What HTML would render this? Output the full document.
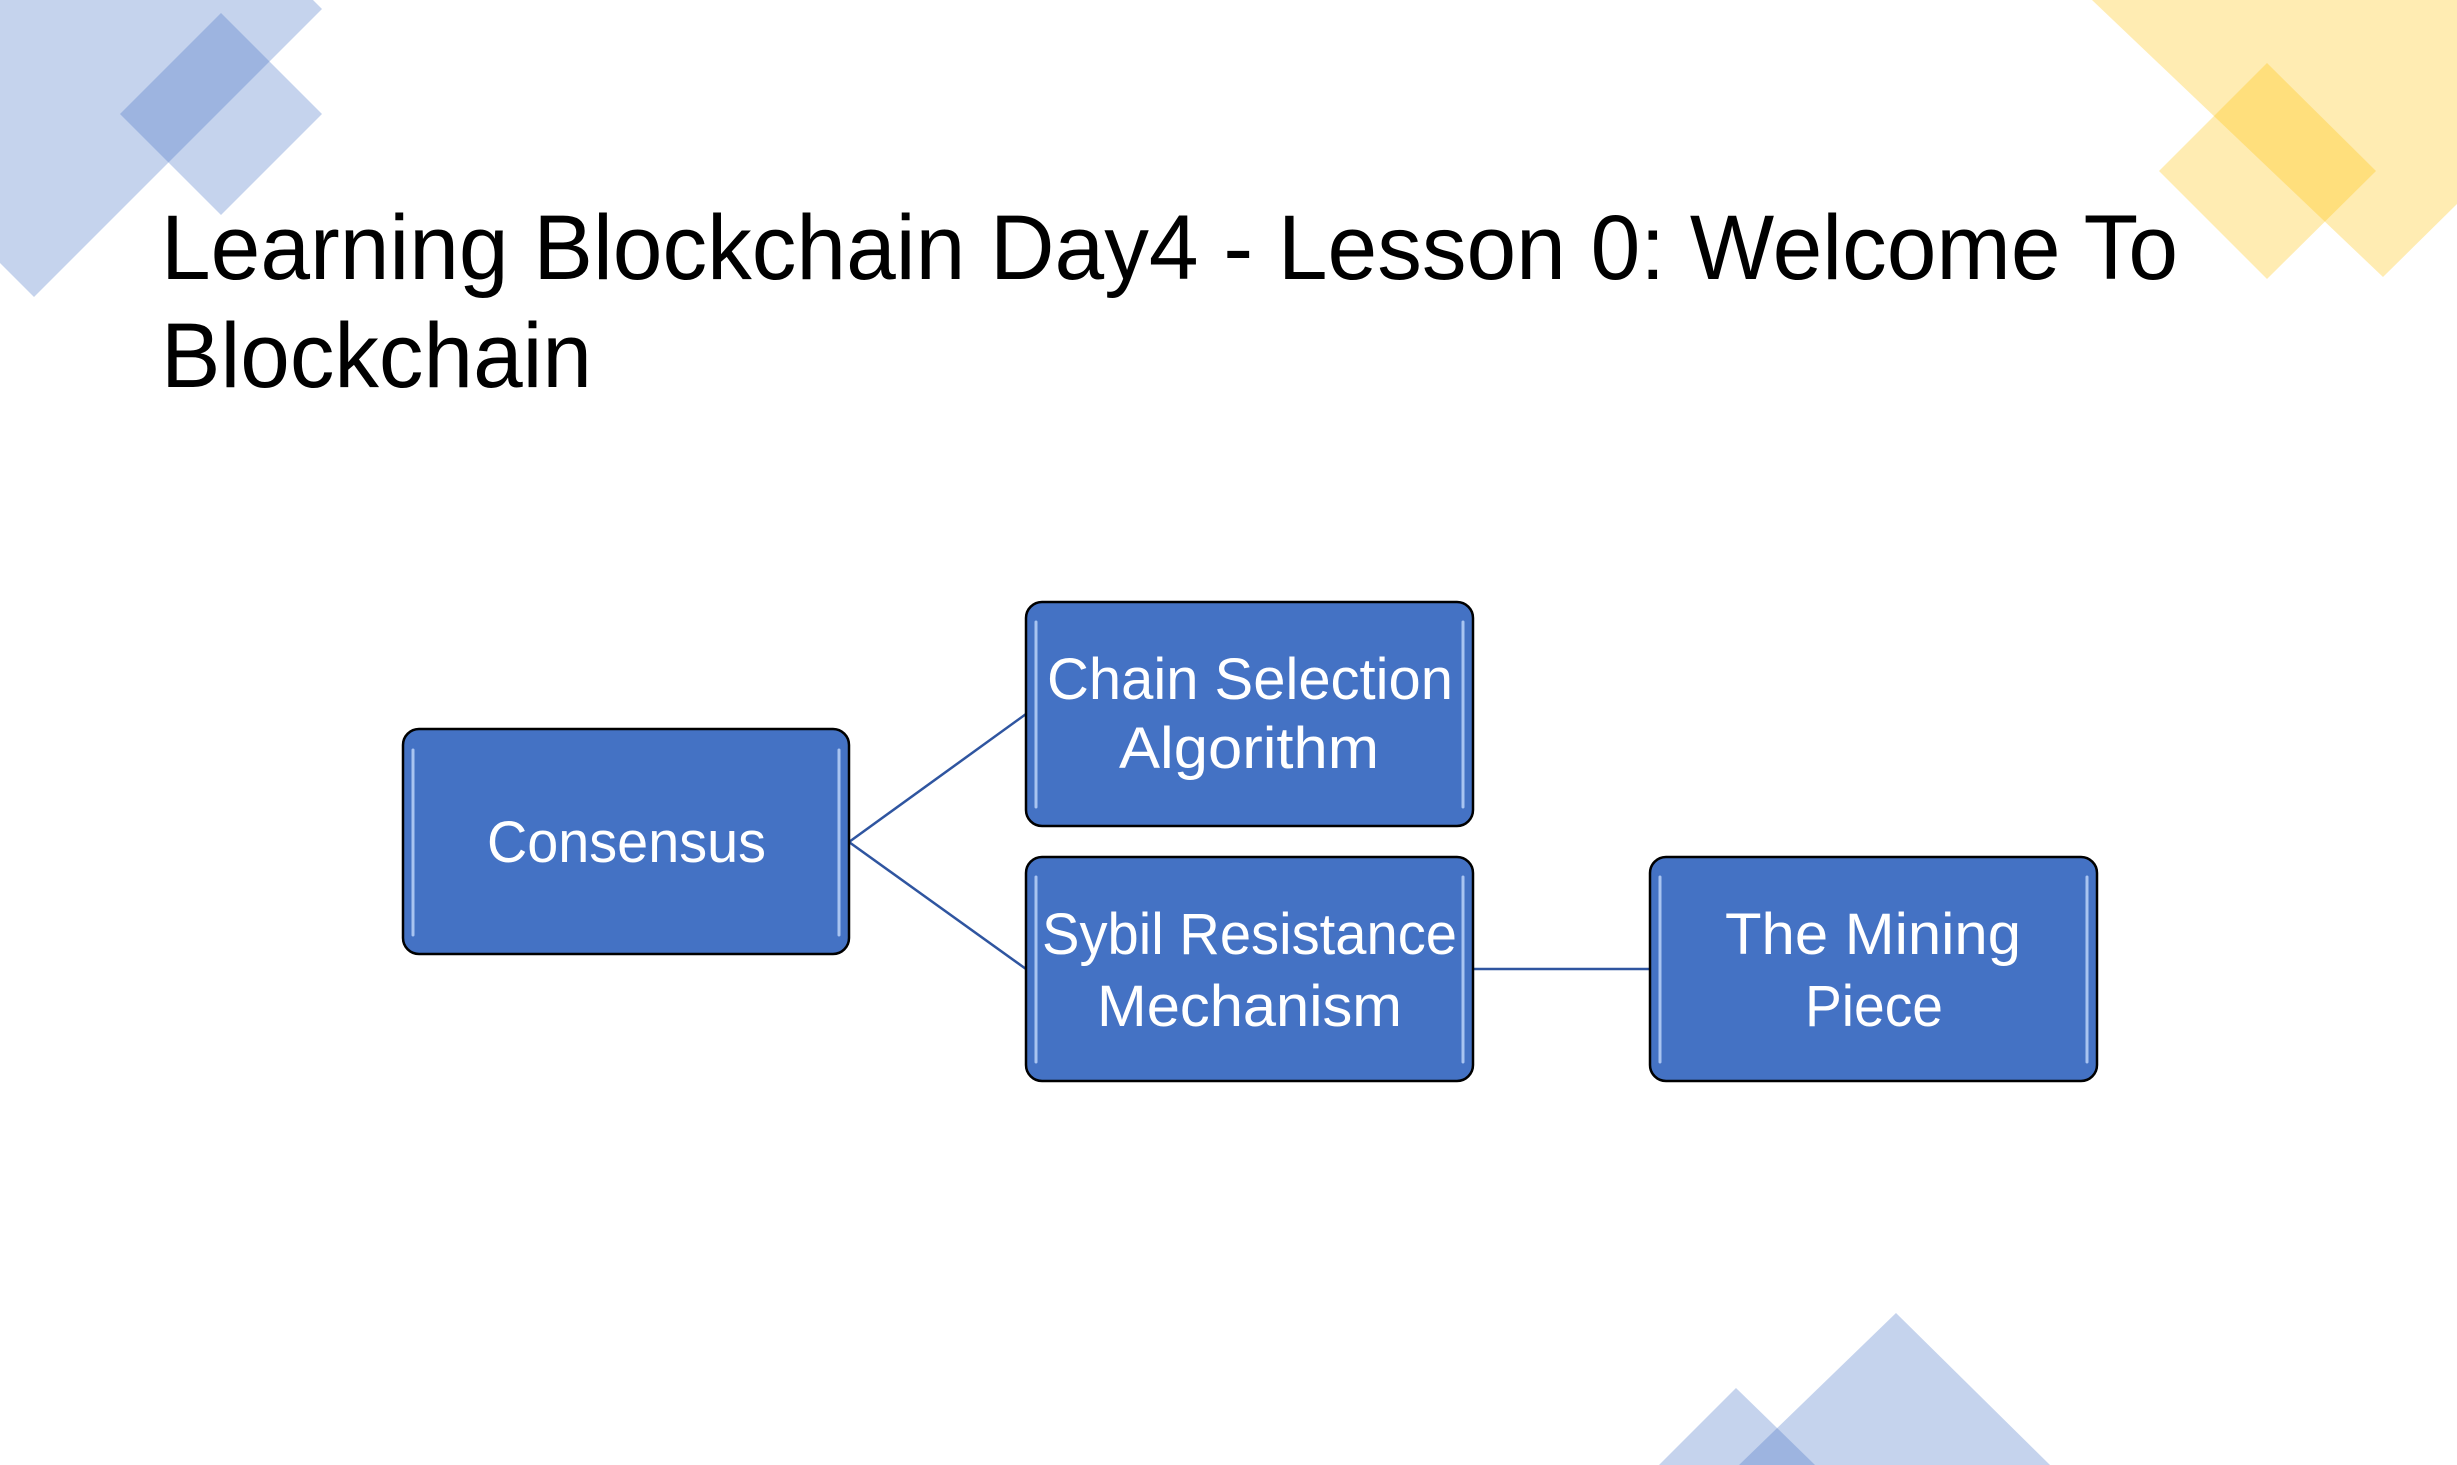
<!DOCTYPE html>
<html><head><meta charset="utf-8"><style>html,body{margin:0;padding:0;background:#fff;}svg{display:block}</style></head>
<body>
<svg width="2457" height="1465" viewBox="0 0 2457 1465" xmlns="http://www.w3.org/2000/svg">
<g fill="#4472c4" fill-opacity="0.31">
<polygon points="0,0 313,0 322,9 34,297 0,263"/>
<polygon points="221,13 322,114 221,215 120,114"/>
<polygon points="1896,1313 2050,1465 1739,1465"/>
<polygon points="1736,1388 1815,1465 1659,1465"/>
</g>
<g fill="#ffc000" fill-opacity="0.3">
<polygon points="2092,0 2457,0 2457,204 2383,277"/>
<polygon points="2267,63 2376,171 2267,279 2159,171"/>
</g>
<g font-family="Liberation Sans, sans-serif" fill="#000">
<text x="161" y="279" font-size="92" textLength="2017" lengthAdjust="spacingAndGlyphs">Learning Blockchain Day4 - Lesson 0: Welcome To</text>
<text x="161" y="387" font-size="92" textLength="431" lengthAdjust="spacingAndGlyphs">Blockchain</text>
</g>
<g stroke="#2f55a0" stroke-width="2.5" fill="none">
<line x1="849" y1="842" x2="1026" y2="714"/>
<line x1="849" y1="842" x2="1026" y2="969"/>
<line x1="1473" y1="969" x2="1650" y2="969"/>
</g>
<g fill="#4472c4" stroke="#000" stroke-width="2.5">
<rect x="403" y="729" width="446" height="225" rx="16"/>
<rect x="1026" y="602" width="447" height="224" rx="16"/>
<rect x="1026" y="857" width="447" height="224" rx="16"/>
<rect x="1650" y="857" width="447" height="224" rx="16"/>
</g>
<g stroke="#a9c4f0" stroke-width="3" stroke-linecap="round">
<line x1="413" y1="750" x2="413" y2="935"/><line x1="839" y1="750" x2="839" y2="935"/>
<line x1="1036" y1="622" x2="1036" y2="807"/><line x1="1463" y1="622" x2="1463" y2="807"/>
<line x1="1036" y1="877" x2="1036" y2="1062"/><line x1="1463" y1="877" x2="1463" y2="1062"/>
<line x1="1660" y1="877" x2="1660" y2="1062"/><line x1="2087" y1="877" x2="2087" y2="1062"/>
</g>
<g font-family="Liberation Sans, sans-serif" fill="#fff" font-size="58">
<text x="487" y="862" textLength="279" lengthAdjust="spacingAndGlyphs">Consensus</text>
<text x="1047" y="699" textLength="406" lengthAdjust="spacingAndGlyphs">Chain Selection</text>
<text x="1119" y="768" textLength="260" lengthAdjust="spacingAndGlyphs">Algorithm</text>
<text x="1042" y="954" textLength="415" lengthAdjust="spacingAndGlyphs">Sybil Resistance</text>
<text x="1097" y="1026" textLength="305" lengthAdjust="spacingAndGlyphs">Mechanism</text>
<text x="1725" y="954" textLength="296" lengthAdjust="spacingAndGlyphs">The Mining</text>
<text x="1805" y="1026" textLength="138" lengthAdjust="spacingAndGlyphs">Piece</text>
</g>
</svg>
</body></html>
